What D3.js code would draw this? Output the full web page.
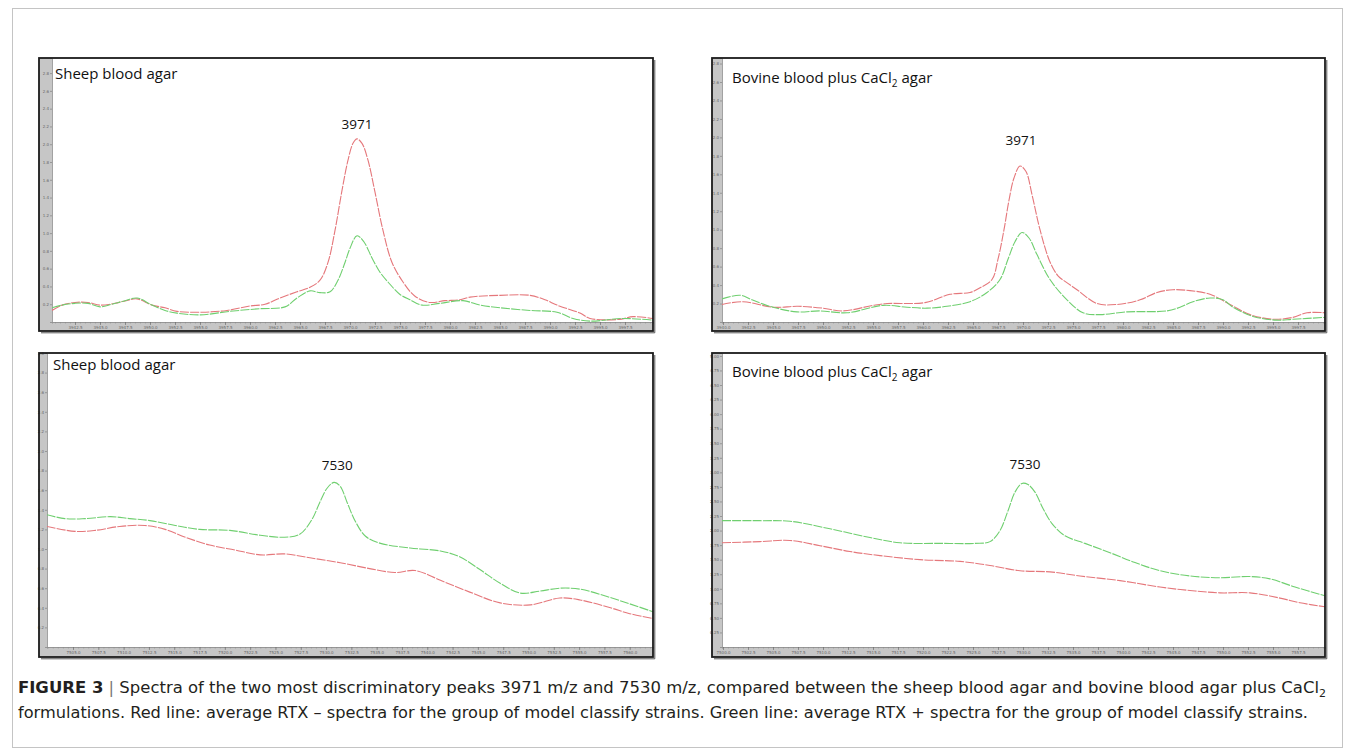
<!DOCTYPE html>
<html>
<head>
<meta charset="utf-8">
<script src="https://cdn.jsdelivr.net/npm/d3@7"></script>
<style>
  html, body { margin: 0; padding: 0; background: #fff; }
  svg { display: block; }
</style>
</head>
<body>
<svg id="fig" width="1355" height="750"></svg>
<script>
// ---------------- DATA ----------------
// Panel 1: peak 3971, sheep blood agar  [m/z, intensity]
const sheep3971Red = [
  [3940.2,0.13],[3941.2,0.19],[3942.5,0.22],[3943.8,0.22],[3945.0,0.19],[3946.5,0.21],
  [3947.6,0.24],[3948.7,0.26],[3950.2,0.19],[3951.5,0.16],[3952.7,0.12],[3955.2,0.11],
  [3957.7,0.13],[3960.0,0.18],[3961.5,0.20],[3963.0,0.27],[3964.7,0.34],[3966.0,0.39],
  [3967.0,0.47],[3967.8,0.67],[3968.5,1.03],[3969.2,1.48],[3969.8,1.82],[3970.3,2.01],
  [3970.7,2.06],[3971.2,2.01],[3971.8,1.82],[3972.5,1.46],[3973.3,1.03],[3974.2,0.67],
  [3975.3,0.45],[3976.5,0.29],[3978.0,0.22],[3979.5,0.24],[3981.0,0.25],[3982.0,0.28],
  [3985.0,0.30],[3988.0,0.30],[3989.5,0.25],[3990.7,0.19],[3993.0,0.10],[3994.0,0.04],
  [3997.0,0.03],[3998.3,0.06],[4000.3,0.04]
];
const sheep3971Green = [
  [3940.2,0.16],[3941.2,0.19],[3942.5,0.21],[3943.8,0.21],[3945.0,0.17],[3946.2,0.20],
  [3947.5,0.24],[3948.7,0.27],[3950.2,0.19],[3951.5,0.13],[3952.7,0.10],[3955.0,0.08],
  [3958.0,0.12],[3961.0,0.15],[3963.5,0.17],[3964.7,0.27],[3966.0,0.35],[3967.0,0.33],
  [3968.0,0.34],[3968.8,0.47],[3969.5,0.67],[3970.0,0.83],[3970.7,0.97],[3971.4,0.90],
  [3972.2,0.72],[3973.0,0.56],[3973.8,0.45],[3975.0,0.31],[3976.0,0.25],[3977.2,0.19],
  [3979.0,0.21],[3981.3,0.24],[3983.0,0.19],[3985.0,0.16],[3988.0,0.13],[3990.7,0.11],
  [3992.3,0.04],[3994.0,0.01],[3997.3,0.04],[4000.3,0.02]
];
// Panel 2: peak 3971, bovine blood plus CaCl2 agar
const bovine3971Red = [
  [3939.9,0.19],[3942.0,0.22],[3945.0,0.16],[3947.5,0.17],[3950.0,0.15],[3952.0,0.12],
  [3955.0,0.18],[3956.4,0.20],[3960.2,0.21],[3962.7,0.30],[3964.7,0.32],[3965.7,0.37],
  [3966.9,0.46],[3967.5,0.68],[3968.1,1.00],[3968.6,1.32],[3969.1,1.56],[3969.7,1.69],
  [3970.3,1.63],[3970.9,1.38],[3971.7,1.00],[3972.7,0.65],[3973.5,0.50],[3974.2,0.44],
  [3975.4,0.35],[3977.4,0.20],[3979.4,0.19],[3981.7,0.24],[3983.4,0.32],[3985.0,0.35],
  [3986.7,0.34],[3988.7,0.30],[3990.7,0.19],[3992.7,0.08],[3995.0,0.03],[3997.0,0.05],
  [3998.4,0.10],[4000.2,0.10]
];
const bovine3971Green = [
  [3939.9,0.25],[3941.7,0.29],[3942.9,0.24],[3945.0,0.16],[3947.4,0.11],[3949.7,0.12],
  [3952.4,0.10],[3956.0,0.18],[3958.4,0.16],[3960.4,0.15],[3962.4,0.17],[3964.7,0.22],
  [3966.4,0.32],[3967.7,0.46],[3968.5,0.68],[3969.2,0.87],[3969.9,0.97],[3970.6,0.91],
  [3971.4,0.73],[3972.7,0.46],[3974.4,0.24],[3976.0,0.10],[3977.7,0.08],[3980.4,0.11],
  [3984.4,0.12],[3985.7,0.16],[3987.0,0.22],[3988.7,0.26],[3990.0,0.24],[3991.0,0.16],
  [3993.0,0.06],[3995.4,0.02],[3997.0,0.03],[4000.2,0.05]
];
// Panel 3: peak 7530, sheep blood agar
const sheep7530Red = [
  [7502.4,1.23],[7505.2,1.18],[7507.2,1.19],[7509.6,1.23],[7512.1,1.24],[7514.1,1.20],
  [7516.1,1.12],[7518.5,1.04],[7521.0,0.99],[7523.5,0.94],[7525.9,0.95],[7528.4,0.91],
  [7531.4,0.86],[7534.3,0.80],[7536.8,0.76],[7538.8,0.78],[7541.3,0.68],[7544.2,0.56],
  [7547.2,0.45],[7550.2,0.43],[7553.1,0.50],[7555.1,0.48],[7558.1,0.40],[7560.0,0.34],
  [7562.3,0.29]
];
const sheep7530Green = [
  [7502.4,1.35],[7504.2,1.31],[7506.2,1.31],[7508.7,1.33],[7510.6,1.31],[7512.6,1.29],
  [7515.1,1.24],[7517.5,1.20],[7520.5,1.19],[7523.5,1.14],[7525.9,1.12],[7527.4,1.15],
  [7528.6,1.30],[7529.4,1.48],[7530.1,1.62],[7530.8,1.68],[7531.4,1.64],[7532.1,1.47],
  [7532.9,1.28],[7533.9,1.13],[7535.3,1.06],[7538.3,1.01],[7541.3,0.98],[7543.2,0.92],
  [7545.2,0.79],[7547.2,0.65],[7549.2,0.55],[7551.1,0.57],[7553.1,0.60],[7555.1,0.59],
  [7557.6,0.52],[7560.0,0.44],[7562.3,0.36]
];
// Panel 4: peak 7530, bovine blood plus CaCl2 agar
const bovine7530Red = [
  [7499.9,1.79],[7503.7,1.81],[7506.7,1.83],[7509.7,1.74],[7512.7,1.64],[7515.7,1.57],
  [7519.7,1.50],[7523.7,1.47],[7526.7,1.40],[7529.7,1.31],[7532.7,1.29],[7535.7,1.22],
  [7539.7,1.14],[7543.7,1.03],[7546.7,0.97],[7549.7,0.93],[7552.7,0.93],[7555.7,0.84],
  [7557.7,0.76],[7560.2,0.69]
];
const bovine7530Green = [
  [7499.9,2.17],[7503.7,2.17],[7506.7,2.16],[7510.7,2.03],[7514.7,1.88],[7517.7,1.79],
  [7521.7,1.78],[7525.2,1.78],[7526.7,1.81],[7527.7,2.00],[7528.5,2.34],[7529.2,2.66],
  [7529.9,2.81],[7530.5,2.79],[7531.2,2.66],[7532.0,2.38],[7532.9,2.12],[7534.2,1.91],
  [7536.2,1.78],[7538.7,1.62],[7541.2,1.45],[7543.7,1.31],[7546.7,1.22],[7549.7,1.19],
  [7552.7,1.21],[7554.7,1.17],[7557.2,1.03],[7560.2,0.88]
];

// axis domains
const p1XDomain = [3940.2, 4000.3], p1YDomain = [0, 2.97];
const p2XDomain = [3939.9, 4000.2], p2YDomain = [0, 2.86];
const p3XDomain = [7502.43, 7562.3], p3YDomain = [0, 3.0];
const p4XDomain = [7499.9, 7560.2], p4YDomain = [0, 5.05];

// tick labels
const p1XTicks = ["3942.5","3945.0","3947.5","3950.0","3952.5","3955.0","3957.5","3960.0","3962.5","3965.0","3967.5","3970.0","3972.5","3975.0","3977.5","3980.0","3982.5","3985.0","3987.5","3990.0","3992.5","3995.0","3997.5"];
const p2XTicks = ["3940.0","3942.5","3945.0","3947.5","3950.0","3952.5","3955.0","3957.5","3960.0","3962.5","3965.0","3967.5","3970.0","3972.5","3975.0","3977.5","3980.0","3982.5","3985.0","3987.5","3990.0","3992.5","3995.0","3997.5"];
const p3XTicks = ["7505.0","7507.5","7510.0","7512.5","7515.0","7517.5","7520.0","7522.5","7525.0","7527.5","7530.0","7532.5","7535.0","7537.5","7540.0","7542.5","7545.0","7547.5","7550.0","7552.5","7555.0","7557.5","7560.0"];
const p4XTicks = ["7500.0","7502.5","7505.0","7507.5","7510.0","7512.5","7515.0","7517.5","7520.0","7522.5","7525.0","7527.5","7530.0","7532.5","7535.0","7537.5","7540.0","7542.5","7545.0","7547.5","7550.0","7552.5","7555.0","7557.5"];
const p1YTicks = ["0.2","0.4","0.6","0.8","1.0","1.2","1.4","1.6","1.8","2.0","2.2","2.4","2.6","2.8"];
const p2YTicks = ["0.2","0.4","0.6","0.8","1.0","1.2","1.4","1.6","1.8","2.0","2.2","2.4","2.6","2.8"];
const p3YTicks = ["0.2","0.4","0.6","0.8","1.0","1.2","1.4","1.6","1.8","2.0","2.2","2.4","2.6","2.8","3.0"];
const p4YTicks = ["0.25","0.50","0.75","1.00","1.25","1.50","1.75","2.00","2.25","2.50","2.75","3.00","3.25","3.50","3.75","4.00","4.25","4.50","4.75","5.00"];

const panelTitles = ["Sheep blood agar", "Bovine blood plus CaCl|2| agar", "Sheep blood agar", "Bovine blood plus CaCl|2| agar"];
const peakLabels = [
  {text:"3971", mz:3970.7, val:2.17},
  {text:"3971", mz:3969.8, val:1.92},
  {text:"7530", mz:7531.1, val:1.81},
  {text:"7530", mz:7530.2, val:3.05}
];
const captionLine1 = ["FIGURE 3", " | ", "Spectra of the two most discriminatory peaks 3971 m/z and 7530 m/z, compared between the sheep blood agar and bovine blood agar plus CaCl", "2"];
const captionLine2 = "formulations. Red line: average RTX \u2013 spectra for the group of model classify strains. Green line: average RTX + spectra for the group of model classify strains.";

// ---------------- LAYOUT ----------------
const svg = d3.select("#fig");
const RED = "#e5777b", GREEN = "#6fcf6f";

svg.append("rect").attr("x", 12.5).attr("y", 8.5).attr("width", 1330).attr("height", 739)
  .attr("fill", "none").attr("stroke", "#c4c4c4").attr("stroke-width", 1);

const panels = [
  {box:[39,58,653,331], plotL:52, plotB:322, xDom:p1XDomain, yDom:p1YDomain, xT:p1XTicks, yT:p1YTicks, red:sheep3971Red, green:sheep3971Green, titlePos:[55,79]},
  {box:[712,58,1325,331], plotL:722, plotB:322, xDom:p2XDomain, yDom:p2YDomain, xT:p2XTicks, yT:p2YTicks, red:bovine3971Red, green:bovine3971Green, titlePos:[732,83]},
  {box:[39,353,653,657], plotL:47, plotB:647, xDom:p3XDomain, yDom:p3YDomain, xT:p3XTicks, yT:p3YTicks, red:sheep7530Red, green:sheep7530Green, titlePos:[53,370]},
  {box:[712,353,1325,657], plotL:722, plotB:647, xDom:p4XDomain, yDom:p4YDomain, xT:p4XTicks, yT:p4YTicks, red:bovine7530Red, green:bovine7530Green, titlePos:[732,377]}
];

panels.forEach((p, i) => {
  const [x0, y0, x1, y1] = p.box;
  const g = svg.append("g");
  // background
  g.append("rect").attr("x", x0).attr("y", y0).attr("width", x1 - x0).attr("height", y1 - y0).attr("fill", "#fff");
  // gray axis strips
  g.append("rect").attr("x", x0).attr("y", y0).attr("width", p.plotL - x0).attr("height", y1 - y0).attr("fill", "#c6c6c6");
  g.append("rect").attr("x", x0).attr("y", p.plotB).attr("width", x1 - x0).attr("height", y1 - p.plotB).attr("fill", "#c6c6c6");

  const x = d3.scaleLinear().domain(p.xDom).range([p.plotL, x1]);
  const y = d3.scaleLinear().domain(p.yDom).range([p.plotB, y0]);

  // y axis
  const ya = g.append("g").attr("transform", `translate(${p.plotL},0)`)
    .call(d3.axisLeft(y).tickValues(p.yT.map(Number)).tickSize(2).tickPadding(1)
      .tickFormat((d, k) => p.yT[k]));
  ya.select(".domain").attr("stroke", "#8a8a8a").attr("stroke-width", 0.8);
  ya.selectAll(".tick line").attr("stroke", "#777").attr("stroke-width", 0.6);
  ya.selectAll("text").attr("font-size", 4).attr("fill", "#666").attr("font-family", "DejaVu Sans");

  // x axis minor ticks
  const minor = d3.range(Math.ceil(p.xDom[0] * 2) / 2, p.xDom[1], 0.5);
  const xm = g.append("g").attr("transform", `translate(0,${p.plotB})`)
    .call(d3.axisBottom(x).tickValues(minor).tickSize(1.5).tickFormat(""));
  xm.select(".domain").attr("stroke", "#8a8a8a").attr("stroke-width", 0.8);
  xm.selectAll(".tick line").attr("stroke", "#888").attr("stroke-width", 0.5);
  // x axis major ticks
  const xa = g.append("g").attr("transform", `translate(0,${p.plotB})`)
    .call(d3.axisBottom(x).tickValues(p.xT.map(Number)).tickSize(3).tickPadding(1)
      .tickFormat((d, k) => p.xT[k]));
  xa.select(".domain").remove();
  xa.selectAll(".tick line").attr("stroke", "#666").attr("stroke-width", 0.6);
  xa.selectAll("text").attr("font-size", 4).attr("fill", "#666").attr("font-family", "DejaVu Sans");

  // clip
  const cid = "clip" + i;
  svg.append("clipPath").attr("id", cid).append("rect")
    .attr("x", p.plotL).attr("y", y0).attr("width", x1 - p.plotL).attr("height", p.plotB - y0);

  const line = d3.line().x(d => x(d[0])).y(d => y(d[1])).curve(d3.curveCatmullRom.alpha(0.5));
  const lg = g.append("g").attr("clip-path", `url(#${cid})`);
  lg.append("path").datum(p.red).attr("d", line).attr("fill", "none")
    .attr("stroke", RED).attr("stroke-width", 1.1).attr("stroke-dasharray", "9,1.2");
  lg.append("path").datum(p.green).attr("d", line).attr("fill", "none")
    .attr("stroke", GREEN).attr("stroke-width", 1.1).attr("stroke-dasharray", "9,1.2");

  // title
  const parts = panelTitles[i].split("|");
  const t = g.append("text").attr("x", p.titlePos[0]).attr("y", p.titlePos[1])
    .attr("font-family", "Open Sans, Liberation Sans, sans-serif").attr("font-size", 15).attr("fill", "#111");
  t.append("tspan").text(parts[0]);
  if (parts.length > 1) {
    t.append("tspan").text(parts[1]).attr("font-size", 10).attr("dy", 4);
    t.append("tspan").text(parts[2]).attr("dy", -4);
  }
  // peak label
  const pl = peakLabels[i];
  g.append("text").attr("x", x(pl.mz)).attr("y", y(pl.val)).attr("text-anchor", "middle")
    .attr("font-family", "Open Sans, Liberation Sans, sans-serif").attr("font-size", 13.5).attr("fill", "#111")
    .text(pl.text);

  // frame
  g.append("rect").attr("x", x0).attr("y", y0).attr("width", x1 - x0).attr("height", y1 - y0)
    .attr("fill", "none").attr("stroke", "#1b1b1b").attr("stroke-width", 1.8);
  g.append("path").attr("d", `M${x1 + 1.8},${y0 + 2}V${y1 + 1.8}H${x0 + 2}`)
    .attr("fill", "none").attr("stroke", "#555").attr("stroke-width", 1);
});

// ---------------- CAPTION ----------------
const cap1 = svg.append("text").attr("x", 18).attr("y", 693)
  .attr("font-family", "Liberation Sans Narrow, DejaVu Sans Condensed, Liberation Sans, sans-serif")
  .attr("font-size", 15).attr("fill", "#231f20")
  .attr("textLength", 1308).attr("lengthAdjust", "spacingAndGlyphs");
cap1.append("tspan").text(captionLine1[0]).attr("font-weight", "bold");
cap1.append("tspan").text(captionLine1[1]).attr("fill", "#777");
cap1.append("tspan").text(captionLine1[2]);
cap1.append("tspan").text(captionLine1[3]).attr("font-size", 10).attr("dy", 4);

svg.append("text").attr("x", 18).attr("y", 718)
  .attr("font-family", "Liberation Sans Narrow, DejaVu Sans Condensed, Liberation Sans, sans-serif")
  .attr("font-size", 15).attr("fill", "#231f20")
  .attr("textLength", 1290).attr("lengthAdjust", "spacingAndGlyphs")
  .text(captionLine2);
</script>
</body>
</html>
